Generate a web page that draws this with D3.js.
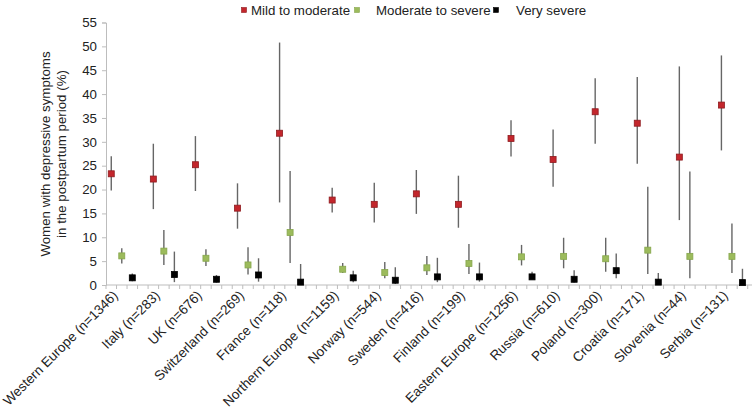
<!DOCTYPE html>
<html>
<head>
<meta charset="utf-8">
<script src="https://cdn.jsdelivr.net/npm/d3@7"></script>
<style>
  html, body { margin: 0; padding: 0; background: #fff; }
  svg { display: block; font-family: "Liberation Sans", Arial, sans-serif; }
</style>
</head>
<body>
<svg id="chart" width="752" height="409"></svg>
<script>
const categories = ["Western Europe (n=1346)","Italy (n=283)","UK (n=676)","Switzerland (n=269)","France (n=118)","Northern Europe (n=1159)","Norway (n=544)","Sweden (n=416)","Finland (n=199)","Eastern Europe (n=1256)","Russia (n=610)","Poland (n=300)","Croatia (n=171)","Slovenia (n=44)","Serbia (n=131)"];
const isRegion = [true,false,false,false,false,true,false,false,false,true,false,false,false,false,false];

const mild   = [23.3,22.2,25.2,16.1,31.8,17.8,16.9,19.1,16.9,30.7,26.3,36.3,33.9,26.8,37.7];
const mildLo = [19.8,15.9,19.7,11.8,17.3,15.2,13.1,14.9,12.0,26.9,20.6,29.6,25.4,13.6,28.2];
const mildHi = [27.0,29.6,31.2,21.3,50.8,20.4,21.4,24.1,22.9,34.5,32.6,43.3,43.6,45.8,48.1];

const moderate = [6.1,7.1,5.6,4.2,11.0,3.3,2.6,3.6,4.5,5.9,6.0,5.5,7.3,6.0,6.0];
const modLo    = [4.5,4.2,4.0,2.2,4.6,2.5,1.4,2.1,2.3,4.1,3.5,2.8,2.3,1.4,2.5];
const modHi    = [7.7,11.5,7.5,7.9,23.9,4.6,4.8,6.1,8.6,8.4,9.9,9.9,20.6,23.8,12.9];

const severe = [1.5,2.2,1.2,2.1,0.6,1.5,1.0,1.7,1.7,1.7,1.2,3.0,0.6,null,0.5];
const sevLo  = [0.8,0.6,0.5,0.7,0.0,0.6,0.2,0.6,0.7,1.2,0.5,1.4,0.0,null,0.0];
const sevHi  = [2.4,7.0,2.1,5.6,4.4,3.0,3.7,5.7,4.7,2.8,3.1,6.6,2.5,null,3.4];

const seriesNames = ["Mild to moderate","Moderate to severe","Very severe"];
const yTicks = [0,5,10,15,20,25,30,35,40,45,50,55];

const series = [
  {name: seriesNames[0], v: mild, lo: mildLo, hi: mildHi, fill: "#c3262c", stroke: "#8e1b1f"},
  {name: seriesNames[1], v: moderate, lo: modLo, hi: modHi, fill: "#9cbb5c", stroke: "#86a64c"},
  {name: seriesNames[2], v: severe, lo: sevLo, hi: sevHi, fill: "#000000", stroke: "#000000"}
];

// slot layout: 4 slots per category (3 series + gap), one extra gap slot before each region (except first)
const startSlot = [];
let s = 0;
categories.forEach((c, i) => {
  if (isRegion[i] && i > 0) s += 1;
  startSlot.push(s);
  s += 4;
});
const totalSlots = s + 1;

const svg = d3.select("#chart");
const x0 = 106, slotW = 10.52;
const x = d3.scaleBand().domain(d3.range(totalSlots)).range([x0, x0 + totalSlots * slotW]).padding(0);
const y = d3.scaleLinear().domain([0, 55]).range([285, 22.5]);

const axisColor = "#bdbdbd";

// Y axis
const yAxis = d3.axisLeft(y).tickValues(yTicks).tickSize(4).tickPadding(5);
const gy = svg.append("g").attr("transform", `translate(${x0},0)`).call(yAxis);
gy.select(".domain").attr("stroke", axisColor);
gy.selectAll(".tick line").attr("stroke", axisColor);
gy.selectAll(".tick text").attr("font-size", 13.3).attr("fill", "#222").attr("font-family", "Liberation Sans, Arial, sans-serif");

// X axis line + ticks at slot boundaries
const xr = x.range();
svg.append("line").attr("x1", xr[0]).attr("x2", xr[1]).attr("y1", y(0)).attr("y2", y(0)).attr("stroke", axisColor);
svg.append("g").selectAll("line").data(d3.range(totalSlots + 1)).join("line")
  .attr("x1", d => x0 + d * x.step()).attr("x2", d => x0 + d * x.step())
  .attr("y1", y(0)).attr("y2", y(0) + 4).attr("stroke", axisColor);

// X labels
svg.append("g").selectAll("text").data(categories).join("text")
  .attr("transform", (d, i) => `translate(${x(startSlot[i]) + x.bandwidth() / 2 + 4},${y(0) + 8}) rotate(-45)`)
  .attr("text-anchor", "end")
  .attr("dy", "0.35em")
  .attr("font-size", 13.5)
  .attr("fill", "#222")
  .text(d => d);

// Y title
const yt = svg.append("text").attr("transform", "translate(50,154) rotate(-90)")
  .attr("text-anchor", "middle").attr("font-size", 13.3).attr("fill", "#222");
yt.append("tspan").attr("x", 0).attr("dy", 0).text("Women with depressive symptoms");
yt.append("tspan").attr("x", 0).attr("dy", 16).text("in the postpartum period (%)");

// Error bars and markers
const ms = 6;
series.forEach((ser, si) => {
  const pts = categories.map((c, i) => ({i, v: ser.v[i], lo: ser.lo[i], hi: ser.hi[i]})).filter(d => d.v != null);
  const cx = d => x(startSlot[d.i] + si) + x.bandwidth() / 2;
  svg.append("g").selectAll("line").data(pts).join("line")
    .attr("x1", cx).attr("x2", cx)
    .attr("y1", d => y(d.lo)).attr("y2", d => y(d.hi))
    .attr("stroke", "#666").attr("stroke-width", 1.4);
  svg.append("g").selectAll("rect").data(pts).join("rect")
    .attr("x", d => cx(d) - ms / 2).attr("y", d => y(d.v) - ms / 2)
    .attr("width", ms).attr("height", ms)
    .attr("fill", ser.fill).attr("stroke", ser.stroke).attr("stroke-width", 0.8);
});

// Legend
const legendX = [[244, 251], [357, 376], [496, 516]];
const lg = svg.append("g");
series.forEach((ser, si) => {
  lg.append("rect").attr("x", legendX[si][0] - 2.5).attr("y", 10 - 2.5).attr("width", 5).attr("height", 5)
    .attr("fill", ser.fill).attr("stroke", ser.stroke).attr("stroke-width", 0.6);
  lg.append("text").attr("x", legendX[si][1]).attr("y", 14.5).attr("font-size", 13.3).attr("fill", "#222").text(ser.name);
});
</script>
</body>
</html>
